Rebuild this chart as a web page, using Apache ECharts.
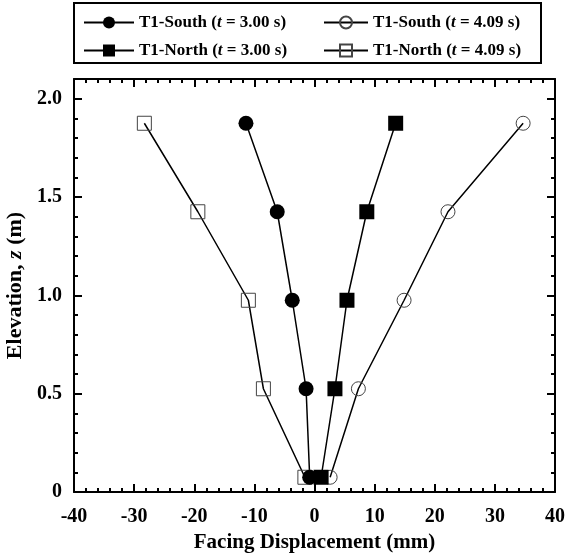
<!DOCTYPE html>
<html>
<head>
<meta charset="utf-8">
<script src="https://cdn.jsdelivr.net/npm/echarts@6/dist/echarts.min.js"></script>
<style>
  html, body { margin: 0; padding: 0; background: #fff; }
  #chart { width: 569px; height: 558px; }
</style>
</head>
<body>
<div id="chart"></div>
<script>
// Elevations of the facing measurement points (m)
const elevations = [0.075, 0.525, 0.975, 1.425, 1.875];

// Facing displacement profiles (mm), bottom to top
const southT300 = [-0.8, -1.4, -3.7, -6.2, -11.4];
const northT300 = [1.1, 3.4, 5.4, 8.7, 13.5];
const southT409 = [2.6, 7.3, 14.9, 22.2, 34.7];
const northT409 = [-1.6, -8.5, -11.0, -19.4, -28.3];

// Axis ticks
const xTicks = { min: -40, max: 40, step: 10 };
const yTicks = { min: 0, max: 2.1, step: 0.5 };

const FONT = '"Liberation Serif", "Times New Roman", serif';

function pairs(xs) {
  return xs.map((x, i) => [x, elevations[i]]);
}

const NAME_S300 = 'T1-South (t = 3.00 s)';
const NAME_N300 = 'T1-North (t = 3.00 s)';
const NAME_S409 = 'T1-South (t = 4.09 s)';
const NAME_N409 = 'T1-North (t = 4.09 s)';

const lineStyle = { color: '#000', width: 1.5 };

function series(name, values, symbol, filled, size) {
  return {
    name: name,
    type: 'line',
    data: pairs(values),
    symbol: symbol,
    symbolSize: size,
    showAllSymbol: true,
    lineStyle: lineStyle,
    itemStyle: filled
      ? { color: '#000', borderColor: '#000', borderWidth: 0 }
      : { color: 'rgba(0,0,0,0)', borderColor: '#444', borderWidth: 1 },
    emphasis: { disabled: true },
    animation: false
  };
}

const legendText = {
  fontFamily: FONT,
  fontWeight: 'bold',
  fontSize: 17,
  color: '#000',
  rich: {
    i: { fontFamily: FONT, fontWeight: 'bold', fontStyle: 'italic', fontSize: 17, color: '#000' }
  }
};
const legendFormatter = n => n.replace('(t', '({i|t}');

const baseAxis = {
  axisLine: { show: true, onZero: false, lineStyle: { color: '#000', width: 2 } },
  axisTick: { show: true, inside: true, length: 8, lineStyle: { color: '#000', width: 2 } },
  minorTick: { show: true, splitNumber: 5, length: 4, lineStyle: { color: '#000', width: 2 } },
  splitLine: { show: false },
  minorSplitLine: { show: false }
};

const labelStyle = {
  fontFamily: FONT,
  fontWeight: 'bold',
  fontSize: 20,
  color: '#000'
};

const chart = echarts.init(document.getElementById('chart'), null, { renderer: 'canvas' });

chart.setOption({
  animation: false,
  backgroundColor: '#fff',
  grid: { left: 74, right: 14, top: 79, bottom: 66, containLabel: false, outerBoundsMode: 'none' },
  graphic: [{
    type: 'rect',
    shape: { x: 74, y: 3, width: 467, height: 60 },
    style: { fill: 'none', stroke: '#000', lineWidth: 2 },
    z: 10
  }],
  legend: [{
    orient: 'vertical',
    left: 83,
    top: 14,
    padding: 0,
    itemWidth: 50,
    itemHeight: 15,
    itemGap: 11,
    data: [NAME_S300, NAME_N300],
    formatter: legendFormatter,
    textStyle: legendText,
    selectedMode: false
  }, {
    orient: 'vertical',
    left: 323,
    top: 14,
    padding: 0,
    itemWidth: 44,
    itemHeight: 15,
    itemGap: 11,
    data: [NAME_S409, NAME_N409],
    formatter: legendFormatter,
    textStyle: legendText,
    selectedMode: false
  }],
  xAxis: [Object.assign({}, baseAxis, {
    type: 'value',
    position: 'bottom',
    min: xTicks.min,
    max: xTicks.max,
    interval: xTicks.step,
    name: 'Facing Displacement (mm)',
    nameLocation: 'middle',
    nameGap: 36,
    nameTextStyle: Object.assign({}, labelStyle, { fontSize: 21 }),
    axisLabel: Object.assign({ margin: 15 }, labelStyle)
  }), Object.assign({}, baseAxis, {
    type: 'value',
    position: 'top',
    min: xTicks.min,
    max: xTicks.max,
    interval: xTicks.step,
    axisLabel: { show: false }
  })],
  yAxis: [Object.assign({}, baseAxis, {
    type: 'value',
    position: 'left',
    min: yTicks.min,
    max: yTicks.max,
    interval: yTicks.step,
    name: 'Elevation, {i|z} (m)',
    nameLocation: 'middle',
    nameGap: 41,
    nameTextStyle: Object.assign({}, labelStyle, {
      fontSize: 22,
      rich: { i: Object.assign({}, labelStyle, { fontSize: 22, fontStyle: 'italic' }) }
    }),
    axisLabel: Object.assign({
      margin: 12,
      showMaxLabel: false,
      formatter: v => (v === 0 ? '0' : v.toFixed(1))
    }, labelStyle)
  }), Object.assign({}, baseAxis, {
    type: 'value',
    position: 'right',
    min: yTicks.min,
    max: yTicks.max,
    interval: yTicks.step,
    axisLabel: { show: false }
  })],
  series: [
    series(NAME_N409, northT409, 'rect', false, 14),
    series(NAME_S409, southT409, 'circle', false, 14),
    series(NAME_N300, northT300, 'rect', true, 15),
    series(NAME_S300, southT300, 'circle', true, 15)
  ]
});
</script>
</body>
</html>
